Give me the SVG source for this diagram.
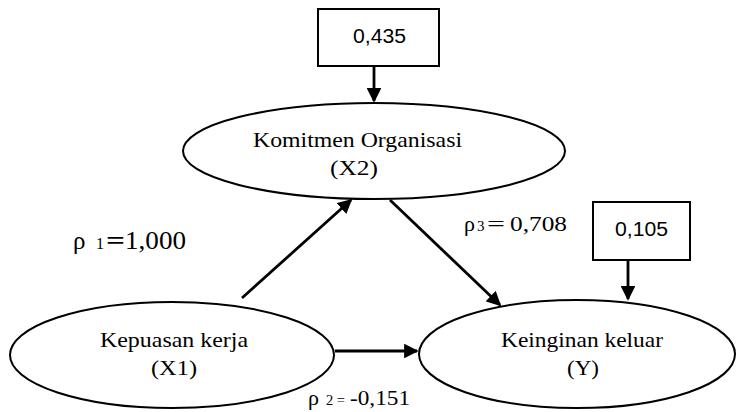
<svg xmlns="http://www.w3.org/2000/svg" width="737" height="412" viewBox="0 0 737 412">
<style>
.n{fill:#fff;stroke:#000;stroke-width:2}
.t{font-family:"Liberation Serif","Times New Roman",serif;font-size:22px;fill:#000}
.b{font-family:"Liberation Sans",Arial,sans-serif;font-size:20px;fill:#000}
.c{stroke:#000;stroke-width:2.8;fill:none;marker-end:url(#a)}
</style>
<defs>
<marker id="a" markerWidth="5.2" markerHeight="5.2" refX="4.6" refY="2.6" orient="auto" markerUnits="strokeWidth">
<path d="M0,0L5.2,2.6L0,5.2z" fill="#000"/>
</marker>
</defs>
<g id="connectors">
<line class="c" x1="374" y1="66" x2="374" y2="101"/>
<line class="c" x1="628" y1="260" x2="628" y2="299"/>
<line class="c" x1="335" y1="351" x2="417" y2="351"/>
<line class="c" x1="242" y1="298" x2="351" y2="200"/>
<line class="c" x1="390" y1="200" x2="500" y2="305"/>
</g>
<g id="e1">
<rect class="n" x="318" y="9" width="121" height="57"/>
<text class="b" x="353" y="43" textLength="53" lengthAdjust="spacingAndGlyphs">0,435</text>
</g>
<g id="e2">
<rect class="n" x="593" y="202" width="97" height="58"/>
<text class="b" x="615" y="236" textLength="53" lengthAdjust="spacingAndGlyphs">0,105</text>
</g>
<g id="x2">
<ellipse class="n" cx="374" cy="151" rx="191" ry="48"/>
<text class="t" x="253" y="147" textLength="209" lengthAdjust="spacingAndGlyphs">Komitmen Organisasi</text>
<text class="t" x="330" y="175" textLength="48" lengthAdjust="spacingAndGlyphs">(X2)</text>
</g>
<g id="x1">
<ellipse class="n" cx="172" cy="355" rx="162" ry="53"/>
<text class="t" x="100" y="347" textLength="148" lengthAdjust="spacingAndGlyphs">Kepuasan kerja</text>
<text class="t" x="151" y="375" textLength="46" lengthAdjust="spacingAndGlyphs">(X1)</text>
</g>
<g id="y">
<ellipse class="n" cx="577" cy="354" rx="158" ry="54"/>
<text class="t" x="501" y="347" textLength="162" lengthAdjust="spacingAndGlyphs">Keinginan keluar</text>
<text class="t" x="567" y="375" textLength="32" lengthAdjust="spacingAndGlyphs">(Y)</text>
</g>
<g id="labels">
<text class="t" y="249" style="font-size:25px"><tspan x="73">ρ</tspan><tspan x="96" style="font-size:16px">1</tspan><tspan x="106" style="font-weight:bold" textLength="19" lengthAdjust="spacingAndGlyphs">=</tspan><tspan x="125" textLength="61" lengthAdjust="spacingAndGlyphs">1,000</tspan></text>
<text class="t" y="231" style="font-size:22px"><tspan x="464">ρ</tspan><tspan x="477" style="font-size:15px">3</tspan><tspan x="487" textLength="18" lengthAdjust="spacingAndGlyphs">=</tspan><tspan x="510" textLength="57" lengthAdjust="spacingAndGlyphs">0,708</tspan></text>
<text class="t" y="405" style="font-size:22px"><tspan x="308">ρ</tspan><tspan x="326" style="font-size:14px" textLength="19" lengthAdjust="spacingAndGlyphs">2 =</tspan><tspan x="350" textLength="60" lengthAdjust="spacingAndGlyphs">-0,151</tspan></text>
</g>
</svg>
